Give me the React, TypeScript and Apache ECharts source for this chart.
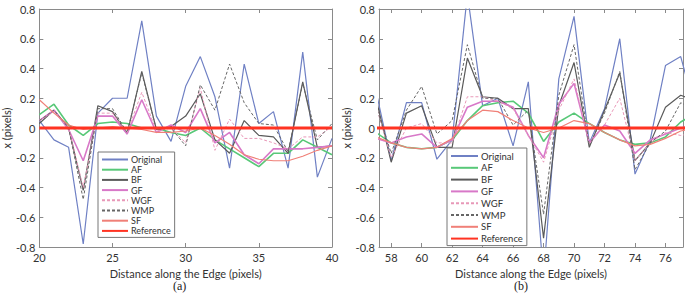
import React, { useEffect, useRef } from "react";
import * as echarts from "echarts";

// ---------- data: panel (a) ----------
const xA = [20, 21, 22, 23, 24, 25, 26, 27, 28, 29, 30, 31, 32, 33, 34, 35, 36, 37, 38, 39, 40];
const origA = [0.05, -0.08, -0.13, -0.78, 0.1, 0.2, 0.2, 0.72, 0.08, -0.09, 0.28, 0.48, 0.21, -0.27, 0.43, 0.03, 0.11, -0.27, 0.51, -0.33, -0.07];
const afA = [0.09, 0.16, 0.02, -0.05, 0.03, 0.04, 0.03, 0.0, 0.0, -0.03, -0.05, 0.0, -0.08, -0.14, -0.2, -0.26, -0.17, -0.17, -0.08, -0.13, -0.18];
const bfA = [0.03, 0.12, 0.0, -0.42, 0.15, 0.11, -0.04, 0.38, -0.01, 0.01, 0.08, 0.23, -0.08, -0.17, 0.05, -0.05, -0.06, -0.17, 0.31, -0.13, -0.12];
const gfA = [0.05, 0.12, -0.01, -0.22, 0.08, 0.08, -0.04, 0.19, -0.03, 0.02, -0.03, 0.13, -0.1, -0.03, -0.18, -0.24, -0.14, -0.14, -0.14, -0.13, -0.12];
const wgfA = [0.05, 0.11, 0.0, -0.4, 0.1, 0.1, -0.03, 0.24, -0.02, 0.0, -0.1, 0.27, -0.15, 0.06, -0.07, -0.07, -0.1, -0.14, -0.06, -0.06, 0.01];
const wmpA = [0.05, 0.12, 0.0, -0.48, 0.13, 0.13, -0.03, 0.37, -0.01, 0.0, -0.12, 0.29, 0.12, 0.43, 0.17, 0.03, 0.02, -0.16, 0.3, -0.08, 0.03];
const sfA = [0.19, 0.1, 0.02, -0.01, 0.0, 0.01, 0.0, -0.01, -0.03, -0.03, -0.02, 0.0, -0.05, -0.11, -0.18, -0.21, -0.22, -0.22, -0.19, -0.15, -0.12];
const refA = [0, 0, 0, 0, 0, 0, 0, 0, 0, 0, 0, 0, 0, 0, 0, 0, 0, 0, 0, 0, 0];

// ---------- data: panel (b) ----------
const xB = [57, 58, 59, 60, 61, 62, 63, 64, 65, 66, 67, 68, 69, 70, 71, 72, 73, 74, 75, 76, 77, 78];
const origB = [0.25, -0.22, 0.17, 0.17, -0.21, -0.08, 0.9, 0.15, 0.2, -0.12, 0.31, -1.0, 0.33, 0.75, -0.1, 0.13, 0.6, -0.31, -0.08, 0.42, 0.48, 0.1];
const afB = [-0.03, -0.1, -0.13, -0.14, -0.13, -0.08, 0.05, 0.15, 0.17, 0.18, 0.1, -0.09, 0.04, 0.1, 0.03, -0.03, -0.08, -0.11, -0.1, -0.06, 0.04, 0.1];
const bfB = [0.2, -0.23, 0.1, 0.15, -0.13, -0.13, 0.47, 0.21, 0.2, 0.13, 0.13, -0.74, 0.15, 0.44, -0.13, 0.12, 0.37, -0.22, -0.1, 0.14, 0.22, 0.18];
const gfB = [-0.07, -0.1, -0.06, -0.04, -0.13, -0.08, 0.14, 0.18, 0.18, 0.14, -0.05, -0.2, 0.16, 0.3, -0.1, 0.02, -0.02, -0.17, -0.08, -0.04, 0.0, 0.02];
const wgfB = [0.15, -0.2, 0.0, 0.03, -0.1, -0.1, 0.21, 0.21, 0.18, 0.13, -0.05, -0.23, 0.12, 0.33, -0.1, 0.02, 0.2, -0.22, -0.1, -0.03, -0.05, -0.03];
const wmpB = [0.15, -0.17, 0.12, 0.28, -0.04, 0.05, 0.56, 0.2, 0.2, 0.02, 0.12, -0.58, 0.22, 0.56, -0.12, 0.1, 0.38, -0.28, -0.1, -0.02, 0.17, 0.12];
const sfB = [-0.06, -0.1, -0.13, -0.14, -0.13, -0.07, 0.05, 0.12, 0.11, 0.05, 0.0, -0.03, 0.0, 0.05, 0.03, -0.03, -0.08, -0.12, -0.11, -0.07, -0.02, 0.0];
const refB = [0, 0, 0, 0, 0, 0, 0, 0, 0, 0, 0, 0, 0, 0, 0, 0, 0, 0, 0, 0, 0, 0];

const names = ["Original", "AF", "BF", "GF", "WGF", "WMP", "SF", "Reference"];
const xTicksB = [58, 60, 62, 64, 66, 68, 70, 72, 74, 76];

const FONT = "Lato";
const styles: Record<string, any> = {
  Original: { color: "#6f80c4", width: 1.2, type: "solid" },
  AF: { color: "#58c878", width: 1.6, type: "solid" },
  BF: { color: "#5a5a5a", width: 1.2, type: "solid" },
  GF: { color: "#d878c8", width: 1.6, type: "solid" },
  WGF: { color: "#e898b8", width: 1, type: [3, 2] },
  WMP: { color: "#666666", width: 1, type: [3, 2] },
  SF: { color: "#f08078", width: 1.2, type: "solid" },
  Reference: { color: "#ff3322", width: 3, type: "solid" },
};

function mkSeries(xs: number[], ys: number[][], axisIdx: number) {
  return names.map((n, i) => ({
    name: n,
    type: "line",
    xAxisIndex: axisIdx,
    yAxisIndex: axisIdx,
    data: xs.map((x, k) => [x, ys[i][k]]),
    showSymbol: false,
    symbol: "none",
    clip: true,
    z: n === "Reference" ? 3 : 2,
    lineStyle: { color: styles[n].color, width: styles[n].width, type: styles[n].type },
    itemStyle: { color: styles[n].color },
    emphasis: { disabled: true },
  }));
}

const frame = "#8a8a8a";
const labelStyle = { fontFamily: FONT, fontSize: 11, color: "#333" };

function xAxes(gridIndex: number, min: number, max: number, interval: number | null, custom: number[] | null) {
  const bottom: any = {
    type: "value",
    gridIndex,
    position: "bottom",
    min,
    max,
    name: "Distance along the Edge (pixels)",
    nameLocation: "middle",
    nameGap: 18,
    nameTextStyle: { fontFamily: FONT, fontSize: 11, color: "#333" },
    axisLine: { show: true, onZero: false, lineStyle: { color: frame, width: 1 } },
    axisTick: { show: true, inside: true, length: 4, lineStyle: { color: frame } },
    axisLabel: { ...labelStyle, margin: 5, showMinLabel: true, showMaxLabel: true },
    splitLine: { show: false },
  };
  const top: any = {
    type: "value",
    gridIndex,
    position: "top",
    min,
    max,
    axisLine: { show: true, onZero: false, lineStyle: { color: frame, width: 1 } },
    axisTick: { show: true, inside: true, length: 4, lineStyle: { color: frame } },
    axisLabel: { show: false },
    splitLine: { show: false },
  };
  if (interval !== null) {
    bottom.interval = interval;
    top.interval = interval;
  }
  if (custom) {
    bottom.axisLabel.customValues = custom;
    bottom.axisTick.customValues = custom;
    top.axisTick.customValues = custom;
    top.axisLabel.customValues = custom;
  }
  return [bottom, top];
}

function yAxes(gridIndex: number) {
  const left: any = {
    type: "value",
    gridIndex,
    position: "left",
    min: -0.8,
    max: 0.8,
    interval: 0.2,
    name: "x (pixels)",
    nameLocation: "middle",
    nameGap: 21,
    nameRotate: 90,
    nameTextStyle: { fontFamily: FONT, fontSize: 11, color: "#333" },
    axisLine: { show: true, onZero: false, lineStyle: { color: frame, width: 1 } },
    axisTick: { show: true, inside: true, length: 4, lineStyle: { color: frame } },
    axisLabel: {
      ...labelStyle,
      margin: 4,
      formatter: (v: number) => {
        const r = Math.round(v * 10) / 10;
        return r === 0 ? "0" : r.toFixed(1);
      },
    },
    splitLine: { show: false },
  };
  const right: any = {
    type: "value",
    gridIndex,
    position: "right",
    min: -0.8,
    max: 0.8,
    interval: 0.2,
    axisLine: { show: true, onZero: false, lineStyle: { color: frame, width: 1 } },
    axisTick: { show: true, inside: true, length: 4, lineStyle: { color: frame } },
    axisLabel: { show: false },
    splitLine: { show: false },
  };
  return [left, right];
}

function mkLegend(left: number, top: number, gap: number, fs: number, itemW: number) {
  return {
    show: true,
    orient: "vertical",
    left,
    top,
    data: names,
    itemWidth: itemW,
    itemHeight: 8,
    itemGap: gap,
    padding: [3, 4, 2, 3],
    backgroundColor: "#ffffff",
    borderColor: "#777",
    borderWidth: 1,
    borderRadius: 0,
    selectedMode: false,
    itemStyle: { opacity: 0 },
    textStyle: { fontFamily: FONT, fontSize: fs, color: "#333", padding: [0, 0, 0, -2] },
  };
}

export default function App() {
  const ref = useRef<HTMLDivElement>(null);
  useEffect(() => {
    if (!ref.current) return;
    const chart = echarts.init(ref.current, null, { renderer: "svg" });
    const [xa0, xa1] = xAxes(0, 20, 40, 5, null);
    const [xb0, xb1] = xAxes(1, 57.2, 77.15, null, xTicksB);
    const [ya0, ya1] = yAxes(0);
    const [yb0, yb1] = yAxes(1);
    const option: any = {
      animation: false,
      backgroundColor: "#ffffff",
      grid: [
        { left: 30, top: 9, width: 302, height: 238, containLabel: false },
        { left: 379, top: 9, width: 304, height: 238, containLabel: false },
      ],
      xAxis: [xa0, xb0, xa1, xb1],
      yAxis: [ya0, yb0, ya1, yb1],
      legend: [mkLegend(98, 152, 1.2, 9, 26), mkLegend(447, 148, 1.8, 9.5, 27)],
      series: [
        ...mkSeries(xA, [origA, afA, bfA, gfA, wgfA, wmpA, sfA, refA], 0),
        ...mkSeries(xB, [origB, afB, bfB, gfB, wgfB, wmpB, sfB, refB], 1),
      ],
      graphic: [
        { type: "text", left: 173, top: 280, style: { text: "(a)", font: "12px 'Liberation Serif'", fill: "#222" } },
        { type: "text", left: 514, top: 280, style: { text: "(b)", font: "12px 'Liberation Serif'", fill: "#222" } },
      ],
    };
    chart.setOption(option);
    return () => chart.dispose();
  }, []);
  return <div ref={ref} style={{ width: 686, height: 303, position: "absolute", left: 0, top: 0 }} />;
}
